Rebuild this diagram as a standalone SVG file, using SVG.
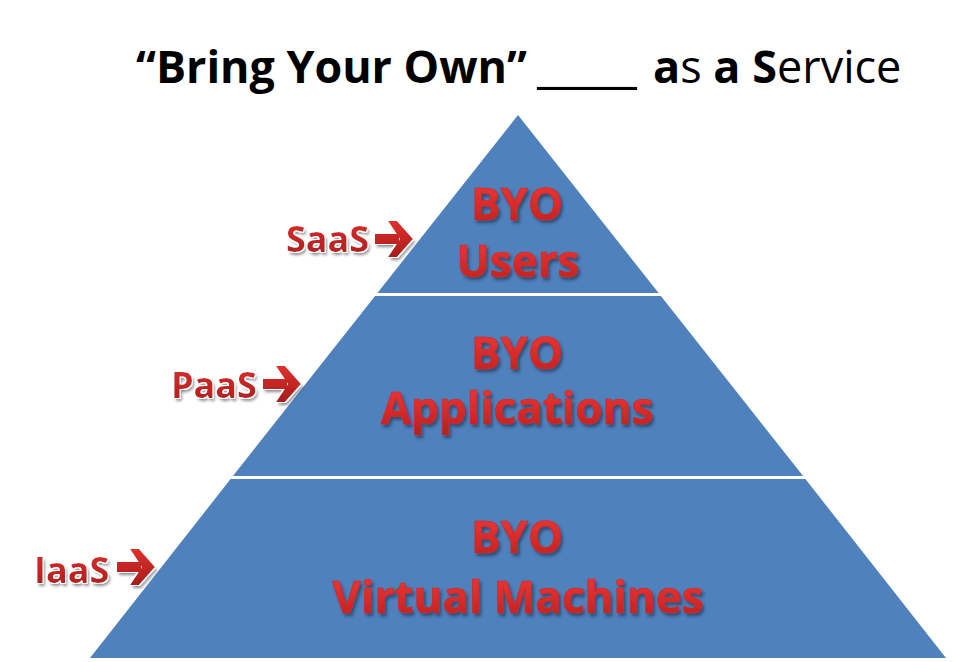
<svg xmlns="http://www.w3.org/2000/svg" width="953" height="662" viewBox="0 0 953 662">
<defs>
  <linearGradient id="redBig" x1="0" y1="0" x2="0" y2="1">
    <stop offset="0" stop-color="#EE3B38"/>
    <stop offset="0.55" stop-color="#D92B29"/>
    <stop offset="1" stop-color="#B01E1E"/>
  </linearGradient>
  <linearGradient id="redSmall" x1="0" y1="0" x2="0" y2="1">
    <stop offset="0" stop-color="#E0302D"/>
    <stop offset="1" stop-color="#A81C1C"/>
  </linearGradient>
  <filter id="shadow" x="-10%" y="-20%" width="130%" height="150%">
    <feDropShadow dx="2" dy="3" stdDeviation="1.8" flood-color="#1a2a44" flood-opacity="0.6"/>
  </filter>
  <filter id="glow" x="-10%" y="-20%" width="130%" height="150%">
    <feMorphology in="SourceAlpha" operator="dilate" radius="1" result="d"/>
    <feFlood flood-color="#ffffff"/>
    <feComposite in2="d" operator="in" result="w"/>
    <feGaussianBlur in="SourceAlpha" stdDeviation="1.5" result="b"/>
    <feOffset in="b" dx="1.5" dy="2.5" result="o"/>
    <feFlood flood-color="#000" flood-opacity="0.45"/>
    <feComposite in2="o" operator="in" result="s"/>
    <feMerge><feMergeNode in="s"/><feMergeNode in="w"/><feMergeNode in="SourceGraphic"/></feMerge>
  </filter>
  <path id="arrow" d="M0,-5 L24,-5 L24,5 L0,5 Z M13,-18 L22,-18 L38,0 L22,18 L13,18 L25,0 Z"/>
  <style>
    .tier { fill: #4F81BD; }
    .title { font-family: "Open Sans", "Liberation Sans", sans-serif; font-size: 45px; fill: #000; }
    .b { font-weight: 700; }
    .r { font-weight: 400; }
    .big { font-family: "Open Sans", "Liberation Sans", sans-serif; font-size: 44px; font-weight: 700; fill: url(#redBig); stroke: #D02828; stroke-width: 0.7; text-anchor: middle; filter: url(#shadow); }
    .lbl { font-family: "Open Sans", "Liberation Sans", sans-serif; font-size: 36px; font-weight: 700; fill: url(#redSmall); filter: url(#glow); }
    .arr { fill: url(#redSmall); filter: url(#glow); }
  </style>
</defs>
<rect width="953" height="662" fill="#ffffff"/>

<g id="title">
  <text class="title b" x="136" y="83" textLength="391" lengthAdjust="spacingAndGlyphs">“Bring Your Own”</text>
  <text class="title b" x="537" y="83" textLength="100" lengthAdjust="spacingAndGlyphs">____</text>
  <text class="title" x="653" y="83"><tspan class="b">a</tspan><tspan class="r">s </tspan><tspan class="b">a</tspan><tspan class="r"> </tspan><tspan class="b">S</tspan><tspan class="r">ervice</tspan></text>
</g>

<g id="tier-saas">
  <polygon class="tier" points="518,115 658.6,293 377.4,293"/>
  <text class="big" x="517" y="220">BYO</text>
  <text class="big" x="518" y="277">Users</text>
</g>

<g id="tier-paas">
  <polygon class="tier" points="375.1,296 660.9,296 803.1,476 232.9,476"/>
  <text class="big" x="517" y="369">BYO</text>
  <text class="big" x="517" y="424">Applications</text>
</g>

<g id="tier-iaas">
  <polygon class="tier" points="230.6,479 805.4,479 946,658 90,658"/>
  <text class="big" x="517" y="553">BYO</text>
  <text class="big" x="518" y="613">Virtual Machines</text>
</g>

<g id="labels">
  <text class="lbl" x="286" y="252">SaaS</text>
  <text class="lbl" x="171" y="398">PaaS</text>
  <text class="lbl" x="34" y="583">IaaS</text>
</g>

<g id="connectors">
  <use href="#arrow" class="arr" transform="translate(375,239)"/>
  <use href="#arrow" class="arr" transform="translate(263,384)"/>
  <use href="#arrow" class="arr" transform="translate(117,567)"/>
</g>
</svg>
